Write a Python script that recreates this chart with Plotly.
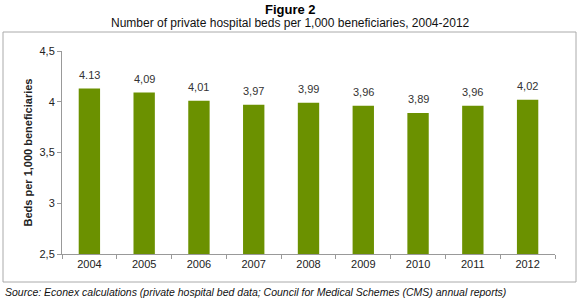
import plotly.graph_objects as go

years = ["2004", "2005", "2006", "2007", "2008", "2009", "2010", "2011", "2012"]
beds = [4.13, 4.09, 4.01, 3.97, 3.99, 3.96, 3.89, 3.96, 4.02]
bar_labels = ["4.13", "4,09", "4,01", "3,97", "3,99", "3,96", "3,89", "3,96", "4,02"]
y_tickvals = [2.5, 3, 3.5, 4, 4.5]
y_ticktext = ["2,5", "3", "3,5", "4", "4,5"]

W, H = 580, 300
L, R, T, B = 62, 25, 51, 46
pw, ph = W - L - R, H - T - B

def px(x):
    return (x - L) / pw

def py(y):
    return (H - B - y) / ph

fig = go.Figure(go.Bar(
    x=years, y=beds,
    marker=dict(color="#6B9100", line=dict(width=0)),
    width=0.39,
))

# category axis: annotation x uses the category index
annotations = [
    dict(x=i, y=v, xref="x", yref="y", text=lab, showarrow=False, yanchor="bottom",
         yshift=6, font=dict(size=11, color="#333333"))
    for i, (v, lab) in enumerate(zip(beds, bar_labels))
]
annotations += [
    dict(text="<b>Figure 2</b>", xref="paper", yref="paper", x=px(290), y=py(9),
         showarrow=False, font=dict(size=13, color="#000000"), xanchor="center", yanchor="middle"),
    dict(text="Number of private hospital beds per 1,000 beneficiaries, 2004-2012", xref="paper", yref="paper",
         x=px(290), y=py(23), showarrow=False, font=dict(size=12, color="#111111"),
         xanchor="center", yanchor="middle"),
    dict(text="<i>Source: Econex calculations (private hospital bed data; Council for Medical Schemes (CMS) annual reports)</i>",
         xref="paper", yref="paper", x=px(3), y=py(292), showarrow=False,
         font=dict(size=10.5, color="#111111"), xanchor="left", yanchor="middle"),
]

fig.update_layout(
    width=W, height=H,
    margin=dict(l=L, r=R, t=T, b=B),
    paper_bgcolor="white", plot_bgcolor="white",
    font=dict(family="Liberation Sans, Arial", color="#222222"),
    showlegend=False,
    xaxis=dict(
        type="category", range=[-0.5, len(years) - 0.5],
        showline=True, linecolor="#999999", linewidth=1,
        ticks="outside", tickson="boundaries", ticklen=4, tickcolor="#999999",
        tickfont=dict(size=11, color="#222222"), showgrid=False,
    ),
    yaxis=dict(
        range=[2.5, 4.5], tickvals=y_tickvals, ticktext=y_ticktext,
        showline=True, linecolor="#999999", linewidth=1,
        ticks="outside", ticklen=4, tickcolor="#999999",
        tickfont=dict(size=11, color="#222222"), showgrid=False, zeroline=False,
        title=dict(text="<b>Beds per 1,000 beneficiaries</b>", font=dict(size=11, color="#222222"), standoff=4),
    ),
    shapes=[dict(type="rect", xref="paper", yref="paper",
                 x0=px(3), x1=px(576), y0=py(32), y1=py(282),
                 line=dict(color="#aaaaaa", width=1), fillcolor="rgba(0,0,0,0)", layer="below")],
    annotations=annotations,
)

fig.write_html("out.html", config={"displayModeBar": False},
               post_script="document.body.style.margin='0';document.body.style.overflow='hidden';")
